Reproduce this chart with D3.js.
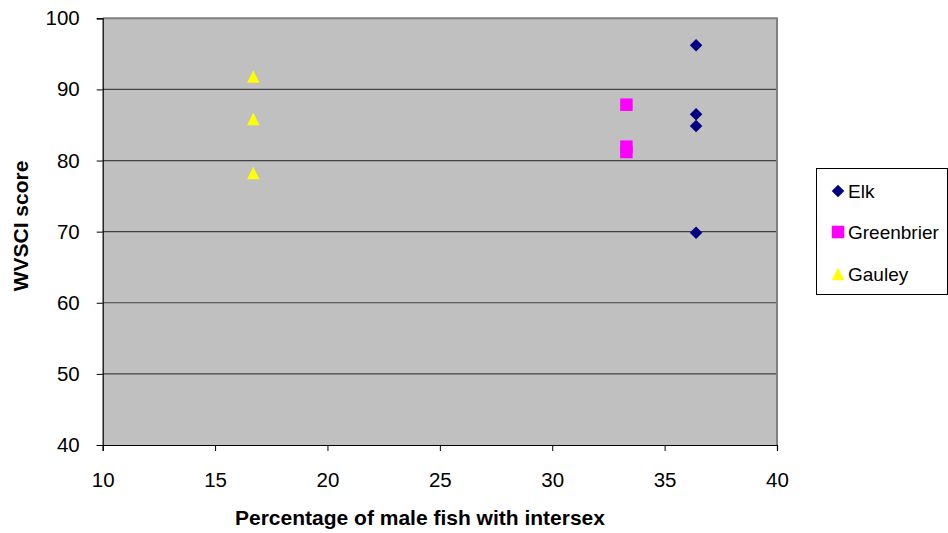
<!DOCTYPE html>
<html>
<head>
<meta charset="utf-8">
<script src="https://cdn.jsdelivr.net/npm/d3@7"></script>
<style>
  body { margin: 0; background: #fff; }
  svg { display: block; font-family: "Liberation Sans", Arial, sans-serif; }
</style>
</head>
<body>
<div class="chart"></div>
<script>
// series values (x = % male fish with intersex, y = WVSCI score)
const seriesNames = ["Elk", "Greenbrier", "Gauley"];
const elkX = [36.4, 36.4, 36.4, 36.4];
const elkY = [96.2, 86.5, 84.85, 69.85];
const greenbrierX = [33.3, 33.3, 33.3];
const greenbrierY = [87.85, 81.95, 81.2];
const gauleyX = [16.7, 16.7, 16.7];
const gauleyY = [91.8, 85.85, 78.25];
const xTicks = [10, 15, 20, 25, 30, 35, 40];
const yTicks = [40, 50, 60, 70, 80, 90, 100];

const width = 948, height = 533;
const margin = { top: 18.3, right: 171, bottom: 88, left: 102.7 };
const innerW = width - margin.left - margin.right;
const innerH = height - margin.top - margin.bottom;

// excel style markers, size = bounding box side in px
const diamond = { draw(ctx, s) { const r = s / 2; ctx.moveTo(0, -r); ctx.lineTo(r, 0); ctx.lineTo(0, r); ctx.lineTo(-r, 0); ctx.closePath(); } };
const square = { draw(ctx, s) { const r = s / 2; ctx.rect(-r, -r, s, s); } };
const triangle = { draw(ctx, s) { const r = s / 2; ctx.moveTo(0, -r); ctx.lineTo(r, r); ctx.lineTo(-r, r); ctx.closePath(); } };

const series = [
  { name: seriesNames[0], xs: elkX, ys: elkY, color: "#000080", shape: diamond },
  { name: seriesNames[1], xs: greenbrierX, ys: greenbrierY, color: "#FF00FF", shape: square },
  { name: seriesNames[2], xs: gauleyX, ys: gauleyY, color: "#FFFF00", shape: triangle }
];
const markerSize = 12.5;

const svg = d3.select(".chart").append("svg")
  .attr("width", width)
  .attr("height", height);

const g = svg.append("g")
  .attr("transform", `translate(${margin.left}, ${margin.top})`);

const x = d3.scaleLinear().domain([10, 40]).range([0, innerW]);
const y = d3.scaleLinear().domain([40, 100]).range([innerH, 0]);

// plot background
g.append("rect")
  .attr("width", innerW)
  .attr("height", innerH)
  .attr("fill", "#C0C0C0");

// horizontal gridlines
g.selectAll(".grid")
  .data(yTicks.filter(d => d > 40 && d < 100))
  .join("line")
  .attr("x1", 0).attr("x2", innerW)
  .attr("y1", d => y(d)).attr("y2", d => y(d))
  .attr("stroke", "#404040")
  .attr("stroke-width", 1.2);

// top / right border
g.append("path")
  .attr("d", `M0,0H${innerW}V${innerH}`)
  .attr("fill", "none")
  .attr("stroke", "#808080")
  .attr("stroke-width", 2);

// axes
const xAxis = g.append("g")
  .attr("transform", `translate(0, ${innerH})`)
  .call(d3.axisBottom(x).tickValues(xTicks).tickSize(6).tickPadding(21));
const yAxis = g.append("g")
  .call(d3.axisLeft(y).tickValues(yTicks).tickSize(6).tickPadding(17));

[xAxis, yAxis].forEach(a => {
  a.select(".domain").attr("stroke", "#000").attr("stroke-width", 1.2);
  a.selectAll(".tick line").attr("stroke", "#000");
  a.selectAll("text")
    .attr("fill", "#000")
    .style("font-size", "20.5px")
    .style("font-family", "'Liberation Sans', Arial, sans-serif");
});

// points
series.forEach(s => {
  const sym = d3.symbol().type(s.shape).size(markerSize);
  g.selectAll(null)
    .data(s.xs.map((v, i) => [v, s.ys[i]]))
    .join("path")
    .attr("d", sym)
    .attr("transform", d => `translate(${x(d[0])}, ${y(d[1])})`)
    .attr("fill", s.color);
});

// axis titles
svg.append("text")
  .attr("x", 420)
  .attr("y", 525)
  .attr("text-anchor", "middle")
  .style("font-size", "21px")
  .style("font-weight", "bold")
  .text("Percentage of male fish with intersex");

svg.append("text")
  .attr("transform", "translate(28, 226) rotate(-90)")
  .attr("text-anchor", "middle")
  .style("font-size", "21px")
  .style("font-weight", "bold")
  .text("WVSCI score");

// legend
const legend = svg.append("g").attr("transform", "translate(816, 168)");
legend.append("rect")
  .attr("x", 0.5).attr("y", 0.5)
  .attr("width", 131).attr("height", 126)
  .attr("fill", "#fff")
  .attr("stroke", "#000");

const legendRows = [23, 64, 106];
series.forEach((s, i) => {
  const row = legend.append("g").attr("transform", `translate(22, ${legendRows[i]})`);
  row.append("path")
    .attr("d", d3.symbol().type(s.shape).size(markerSize))
    .attr("fill", s.color);
  row.append("text")
    .attr("x", 10)
    .attr("y", 7)
    .style("font-size", "19px")
    .text(s.name);
});
</script>
</body>
</html>
